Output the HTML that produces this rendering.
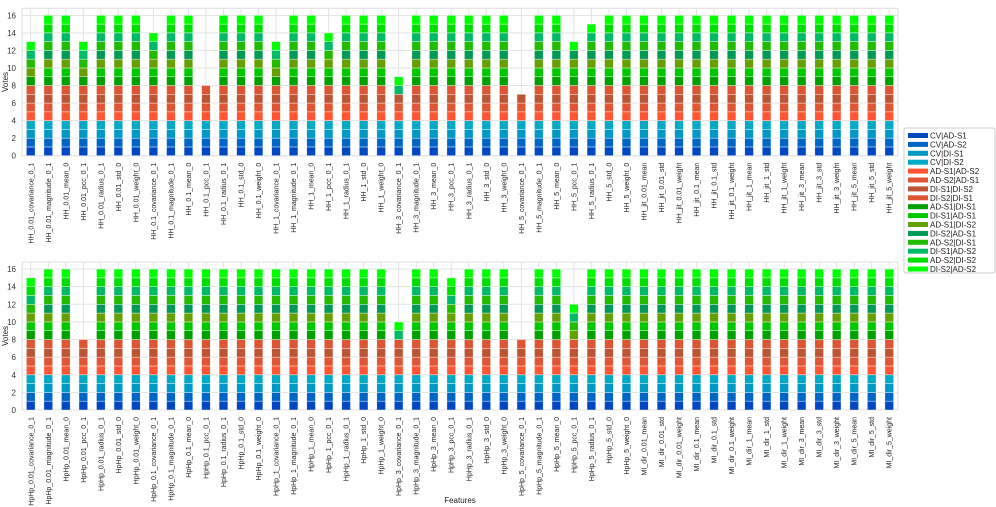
<!DOCTYPE html>
<html><head><meta charset="utf-8"><style>
body{margin:0;background:#fff;}
svg{display:block;font-family:"Liberation Sans",sans-serif;}
</style></head><body>
<svg id="chart" width="996" height="507" viewBox="0 0 996 507"></svg>
<script>
const seriesNames=["CV|AD-S1","CV|AD-S2","CV|DI-S1","CV|DI-S2","AD-S1|AD-S2","AD-S2|AD-S1","DI-S1|DI-S2","DI-S2|DI-S1","AD-S1|DI-S1","DI-S1|AD-S1","AD-S1|DI-S2","DI-S2|AD-S1","AD-S2|DI-S1","DI-S1|AD-S2","AD-S2|DI-S2","DI-S2|AD-S2"];
const seriesColors=["#0047c2","#0066c6","#0099c6","#00aac6","#ff5533","#e05533","#bb5533","#dd5533","#00a000","#00c800","#66a000","#009955","#22bb00","#00bb66","#00dd00","#00ff00"];
const topCategories=["HH_0.01_covariance_0_1","HH_0.01_magnitude_0_1","HH_0.01_mean_0","HH_0.01_pcc_0_1","HH_0.01_radius_0_1","HH_0.01_std_0","HH_0.01_weight_0","HH_0.1_covariance_0_1","HH_0.1_magnitude_0_1","HH_0.1_mean_0","HH_0.1_pcc_0_1","HH_0.1_radius_0_1","HH_0.1_std_0","HH_0.1_weight_0","HH_1_covariance_0_1","HH_1_magnitude_0_1","HH_1_mean_0","HH_1_pcc_0_1","HH_1_radius_0_1","HH_1_std_0","HH_1_weight_0","HH_3_covariance_0_1","HH_3_magnitude_0_1","HH_3_mean_0","HH_3_pcc_0_1","HH_3_radius_0_1","HH_3_std_0","HH_3_weight_0","HH_5_covariance_0_1","HH_5_magnitude_0_1","HH_5_mean_0","HH_5_pcc_0_1","HH_5_radius_0_1","HH_5_std_0","HH_5_weight_0","HH_jit_0.01_mean","HH_jit_0.01_std","HH_jit_0.01_weight","HH_jit_0.1_mean","HH_jit_0.1_std","HH_jit_0.1_weight","HH_jit_1_mean","HH_jit_1_std","HH_jit_1_weight","HH_jit_3_mean","HH_jit_3_std","HH_jit_3_weight","HH_jit_5_mean","HH_jit_5_std","HH_jit_5_weight"];
const bottomCategories=["HpHp_0.01_covariance_0_1","HpHp_0.01_magnitude_0_1","HpHp_0.01_mean_0","HpHp_0.01_pcc_0_1","HpHp_0.01_radius_0_1","HpHp_0.01_std_0","HpHp_0.01_weight_0","HpHp_0.1_covariance_0_1","HpHp_0.1_magnitude_0_1","HpHp_0.1_mean_0","HpHp_0.1_pcc_0_1","HpHp_0.1_radius_0_1","HpHp_0.1_std_0","HpHp_0.1_weight_0","HpHp_1_covariance_0_1","HpHp_1_magnitude_0_1","HpHp_1_mean_0","HpHp_1_pcc_0_1","HpHp_1_radius_0_1","HpHp_1_std_0","HpHp_1_weight_0","HpHp_3_covariance_0_1","HpHp_3_magnitude_0_1","HpHp_3_mean_0","HpHp_3_pcc_0_1","HpHp_3_radius_0_1","HpHp_3_std_0","HpHp_3_weight_0","HpHp_5_covariance_0_1","HpHp_5_magnitude_0_1","HpHp_5_mean_0","HpHp_5_pcc_0_1","HpHp_5_radius_0_1","HpHp_5_std_0","HpHp_5_weight_0","MI_dir_0.01_mean","MI_dir_0.01_std","MI_dir_0.01_weight","MI_dir_0.1_mean","MI_dir_0.1_std","MI_dir_0.1_weight","MI_dir_1_mean","MI_dir_1_std","MI_dir_1_weight","MI_dir_3_mean","MI_dir_3_std","MI_dir_3_weight","MI_dir_5_mean","MI_dir_5_std","MI_dir_5_weight"];
// per-bar lists of missing series indices (all others vote 1)
const topMissing={0:[9,11,14],3:[9,11,14],7:[11,14],10:[8,9,10,11,12,13,14,15],14:[9,11,14],17:[11,14],21:[7,8,9,10,11,12,14],28:[7,8,9,10,11,12,13,14,15],31:[12,13,14],32:[14]};
const bottomMissing={0:[11],3:[8,9,10,11,12,13,14,15],21:[8,9,10,11,12,14],24:[11],28:[8,9,10,11,12,13,14,15],31:[8,9,11,14]};
const yTicks=[0,2,4,6,8,10,12,14,16];

const NS="http://www.w3.org/2000/svg";
const svg=document.getElementById('chart');
function mk(tag,attrs,parent){const e=document.createElementNS(NS,tag);for(const k in attrs)e.setAttribute(k,attrs[k]);(parent||svg).appendChild(e);return e;}
function values(missing,n){const v=[];for(let i=0;i<n;i++){const m=missing[i]||[];v.push(seriesNames.map((_,s)=>m.includes(s)?0:1));}return v;}

function panel(cats,missing,y0,yTop,name){
  const L=22,R=898;
  const g=mk('g',{});
  
  
  const sy=v=>y0-(y0-yTop)*v/16.8;
  const step=(R-L)/cats.length;
  const sx=i=>L+step*(i+0.5);
  mk('rect',{x:L,y:sy(16.8),width:R-L,height:y0-sy(16.8),fill:'#fff',stroke:'#ddd'},g);
  for(let i=0;i<cats.length;i++)mk('line',{x1:sx(i),x2:sx(i),y1:sy(16.8),y2:y0,stroke:'#e3e3e3','stroke-width':1},g);
  yTicks.forEach(t=>{
    mk('line',{x1:L,x2:R,y1:sy(t),y2:sy(t),stroke:'#e3e3e3'},g);
    const tx=mk('text',{x:L-6,y:sy(t)+3,'text-anchor':'end','font-size':8,fill:'#333'},g);tx.textContent=t;
    
    
  });
  const vals=values(missing,cats.length);
  const bw=step*0.5;
  cats.forEach((c,i)=>{
    let acc=0;
    vals[i].forEach((v,s)=>{
      if(!v)return;
      const r=mk('rect',{x:sx(i)-bw/2,y:sy(acc+v),width:bw,height:sy(acc)-sy(acc+v),fill:seriesColors[s],stroke:'#fff','stroke-width':0.6,'stroke-opacity':0.7},g);
      
      
      acc+=v;
    });
    const t=mk('text',{transform:`translate(${sx(i)+2.5},${y0+7}) rotate(-90)`,'text-anchor':'end','font-size':7,fill:'#222'},g);
    t.textContent=c;
    
    
  });
  const yl=mk('text',{transform:`translate(8,${(y0+sy(16.8))/2}) rotate(-90)`,'text-anchor':'middle','font-size':8,fill:'#222'},g);
  yl.textContent='Votes';
  
  
}
panel(topCategories,topMissing,155.7,8.3+0,'top-panel');
panel(bottomCategories,bottomMissing,410,262,'bottom-panel');
const xt=mk('text',{x:460,y:503,'text-anchor':'middle','font-size':8,fill:'#222'});
xt.textContent='Features';


// legend
const lg=mk('g',{});


mk('rect',{x:904,y:128,width:91,height:145,fill:'#fff',stroke:'#ccc',rx:2},lg);
seriesNames.forEach((n,i)=>{
  const y=136+i*8.9;
  const e=mk('g',{},lg);
  
  
  mk('rect',{x:908,y:y-3,width:20,height:5,fill:seriesColors[i]},e);
  const t=mk('text',{x:930,y:y+2.5,'font-size':8,fill:'#222'},e);t.textContent=n;
});
</script>
</body></html>
